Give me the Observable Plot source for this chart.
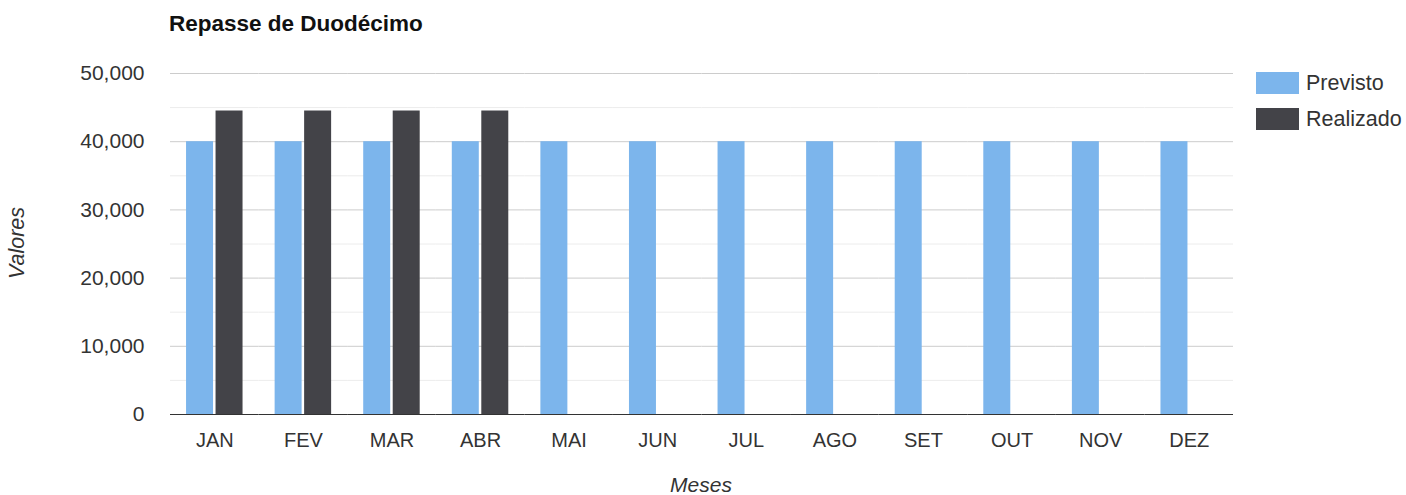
<!DOCTYPE html>
<html>
<head>
<meta charset="utf-8">
<script src="https://cdn.jsdelivr.net/npm/d3@7"></script>
<script src="https://cdn.jsdelivr.net/npm/@observablehq/plot@0.6"></script>
<style>
  html, body { margin: 0; padding: 0; background: #fff; }
  #wrap { position: relative; width: 1406px; height: 495px; font-family: "Liberation Sans", Arial, sans-serif; overflow: hidden; }
  #title { position: absolute; left: 169px; top: 13px; font-size: 22.5px; line-height: 1; font-weight: bold; color: #111; white-space: nowrap; }
  #ylab { position: absolute; left: 18px; top: 243px; font-size: 21.5px; line-height: 1; font-style: italic; color: #333; transform: translate(-50%, -50%) rotate(-90deg); white-space: nowrap; }
  #xlab { position: absolute; left: 701px; top: 484px; font-size: 21px; line-height: 1; font-style: italic; color: #333; transform: translate(-50%, -50%); white-space: nowrap; }
  #legend { position: absolute; left: 1256px; top: 72px; font-size: 21.5px; color: #333; }
  .li { display: flex; align-items: center; height: 22px; margin-bottom: 14px; }
  .sw { width: 43px; height: 22px; margin-right: 7px; }
</style>
</head>
<body>
<div id="wrap">
  <div id="chart"></div>
  <div id="title">Repasse de Duodécimo</div>
  <div id="ylab">Valores</div>
  <div id="xlab">Meses</div>
  <div id="legend"></div>
</div>
<script>
const months = ["JAN","FEV","MAR","ABR","MAI","JUN","JUL","AGO","SET","OUT","NOV","DEZ"];
const previsto = [40000,40000,40000,40000,40000,40000,40000,40000,40000,40000,40000,40000];
const realizado = [44500,44500,44500,44500,null,null,null,null,null,null,null,null];
const seriesNames = ["Previsto","Realizado"];
const seriesColors = ["#7cb5ec","#434348"];
const yTicks = [0,10000,20000,30000,40000,50000];
const yMinor = [5000,15000,25000,35000,45000];

const data = [];
months.forEach((m, i) => {
  data.push({month: m, series: "Previsto", value: previsto[i]});
  if (realizado[i] != null) data.push({month: m, series: "Realizado", value: realizado[i]});
});

const chart = Plot.plot({
  width: 1406,
  height: 495,
  marginLeft: 170,
  marginRight: 173,
  marginTop: 73,
  marginBottom: 81,
  style: {fontFamily: "Liberation Sans, Arial, sans-serif", fontSize: "21px", color: "#333", background: "#fff"},
  fx: {domain: months, padding: 0, round: false, label: null, axis: "bottom", tickSize: 0, tickPadding: 18},
  x: {domain: seriesNames, paddingInner: 0.085, paddingOuter: 0.544, round: false, axis: null},
  y: {domain: [0, 50000], ticks: yTicks, tickFormat: d3.format(","), tickSize: 0, tickPadding: 26, label: null},
  color: {domain: seriesNames, range: seriesColors},
  marks: [
    Plot.ruleY(yMinor, {stroke: "#ececec", strokeWidth: 1}),
    Plot.ruleY(yTicks.filter(d => d > 0), {stroke: "#cccccc", strokeWidth: 1}),
    Plot.barY(data, {fx: "month", x: "series", y: "value", fill: "series"}),
    Plot.ruleY([0], {stroke: "#333", strokeWidth: 1})
  ]
});
chart.querySelectorAll("g[aria-label='fx-axis tick label'] text, g[aria-label='fx-axis tick label']").forEach(el => el.style.fontSize = "20px");
document.getElementById("chart").appendChild(chart);

const legend = document.getElementById("legend");
seriesNames.forEach((s, i) => {
  const row = document.createElement("div");
  row.className = "li";
  const sw = document.createElement("div");
  sw.className = "sw";
  sw.style.background = seriesColors[i];
  const t = document.createElement("span");
  t.textContent = s;
  row.appendChild(sw);
  row.appendChild(t);
  legend.appendChild(row);
});
</script>
</body>
</html>
